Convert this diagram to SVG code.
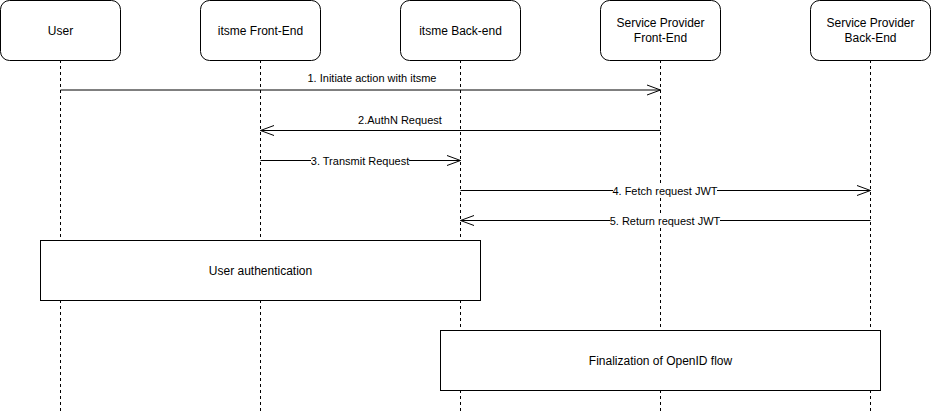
<svg xmlns="http://www.w3.org/2000/svg" width="931" height="412" viewBox="0 0 931 412">
<style>
.node{fill:#fff;stroke:#000;stroke-width:1}
.life{stroke:#000;stroke-width:1;stroke-dasharray:3 3;fill:none}
.msg{stroke:#000;stroke-width:1;fill:none}
.t{font-family:"Liberation Sans",Arial,sans-serif;font-size:12px;fill:#000;text-anchor:middle}
.l{font-family:"Liberation Sans",Arial,sans-serif;font-size:11px;fill:#000;text-anchor:middle}
.bg{fill:#fff}
</style>
<defs>
<marker id="open" viewBox="0 0 16 12" refX="14.5" refY="6" markerWidth="16" markerHeight="12" markerUnits="userSpaceOnUse" orient="auto">
<path d="M1,1 L14.5,6 L1,11" fill="none" stroke="#000" stroke-width="1"/>
</marker>
</defs>
<rect width="931" height="412" fill="#fff"/>
<g id="lifelines">
<line class="life" x1="60.5" y1="60" x2="60.5" y2="412"/>
<line class="life" x1="260.5" y1="60" x2="260.5" y2="412"/>
<line class="life" x1="460.5" y1="60" x2="460.5" y2="412"/>
<line class="life" x1="660.5" y1="60" x2="660.5" y2="412"/>
<line class="life" x1="870.5" y1="60" x2="870.5" y2="412"/>
</g>
<g id="node-user">
<rect class="node" x="0.5" y="0.5" width="120" height="60" rx="9"/>
<text class="t" x="60.5" y="35">User</text>
</g>
<g id="node-itsme-fe">
<rect class="node" x="200.5" y="0.5" width="120" height="60" rx="9"/>
<text class="t" x="260.5" y="35">itsme Front-End</text>
</g>
<g id="node-itsme-be">
<rect class="node" x="400.5" y="0.5" width="120" height="60" rx="9"/>
<text class="t" x="460.5" y="35">itsme Back-end</text>
</g>
<g id="node-sp-fe">
<rect class="node" x="600.5" y="0.5" width="120" height="60" rx="9"/>
<text class="t" x="660.5" y="27">Service Provider</text>
<text class="t" x="660.5" y="42">Front-End</text>
</g>
<g id="node-sp-be">
<rect class="node" x="810.5" y="0.5" width="120" height="60" rx="9"/>
<text class="t" x="870.5" y="27">Service Provider</text>
<text class="t" x="870.5" y="42">Back-End</text>
</g>
<g id="connectors">
<line class="msg" x1="60.5" y1="90" x2="660.5" y2="90" marker-end="url(#open)"/>
<text class="l" x="372" y="82">1. Initiate action with itsme</text>
<line class="msg" x1="660.5" y1="130.5" x2="260.5" y2="130.5" marker-end="url(#open)"/>
<text class="l" x="400" y="124">2.AuthN Request</text>
<line class="msg" x1="260.5" y1="160.5" x2="460.5" y2="160.5" marker-end="url(#open)"/>
<rect class="bg" x="311" y="154" width="98" height="13"/>
<text class="l" x="360" y="164.5">3. Transmit Request</text>
<line class="msg" x1="460.5" y1="190.5" x2="870.5" y2="190.5" marker-end="url(#open)"/>
<rect class="bg" x="613" y="184" width="104" height="13"/>
<text class="l" x="665" y="194.5">4. Fetch request JWT</text>
<line class="msg" x1="870.5" y1="220.5" x2="460.5" y2="220.5" marker-end="url(#open)"/>
<rect class="bg" x="610" y="214" width="110" height="13"/>
<text class="l" x="665" y="224.5">5. Return request JWT</text>
</g>
<g id="node-user-auth">
<rect class="node" x="40.5" y="240.5" width="440" height="60"/>
<text class="t" x="260.5" y="275">User authentication</text>
</g>
<g id="node-finalization">
<rect class="node" x="440.5" y="330.5" width="440" height="60"/>
<text class="t" x="660.5" y="365">Finalization of OpenID flow</text>
</g>
</svg>
